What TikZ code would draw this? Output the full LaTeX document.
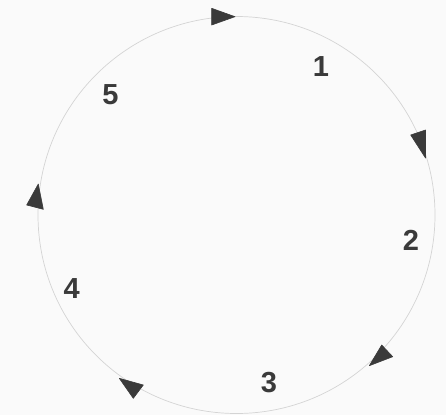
\documentclass[tikz,border=0pt]{standalone}
\usepackage{fontspec}
\setmainfont{Liberation Sans}
\definecolor{bg}{HTML}{FAFAFA}
\definecolor{ring}{HTML}{D4D4D4}
\definecolor{ink}{HTML}{3A3A3A}
\tikzset{
  ringline/.style={draw=ring, line width=0.7pt},
  head/.style={fill=ink, draw=ink, line width=0.6pt, line join=round},
  num/.style={inner sep=0pt, text=ink, font=\fontsize{29}{29}\selectfont\bfseries}
}
\begin{document}
\begin{tikzpicture}[x=1pt,y=-1pt]
\fill[bg] (0,0) rectangle (446,415);
\useasboundingbox (0,0) rectangle (446,415);
\coordinate (c) at (236.5,215);
\draw[ringline] (c) circle[radius=198.5];
% arrowheads
\filldraw[head] (211.7,8.3) -- (235,16.7) -- (211.7,25) -- cycle;
\filldraw[head] (410.7,135) -- (425.5,130) -- (425.5,158) -- cycle;
\filldraw[head] (381.7,345) -- (392.7,356.7) -- (369.3,365.7) -- cycle;
\filldraw[head] (143.3,385) -- (133.3,398.3) -- (119.3,378.3) -- cycle;
\filldraw[head] (43.3,209.3) -- (26.7,205) -- (38.3,184) -- cycle;
% labels
\node[num] (n1) at (321,67) {1};
\node[num] (n2) at (411,240.5) {2};
\node[num] (n3) at (269,382.5) {3};
\node[num] (n4) at (71.7,288.7) {4};
\node[num] (n5) at (110.5,94.3) {5};
\end{tikzpicture}
\end{document}
